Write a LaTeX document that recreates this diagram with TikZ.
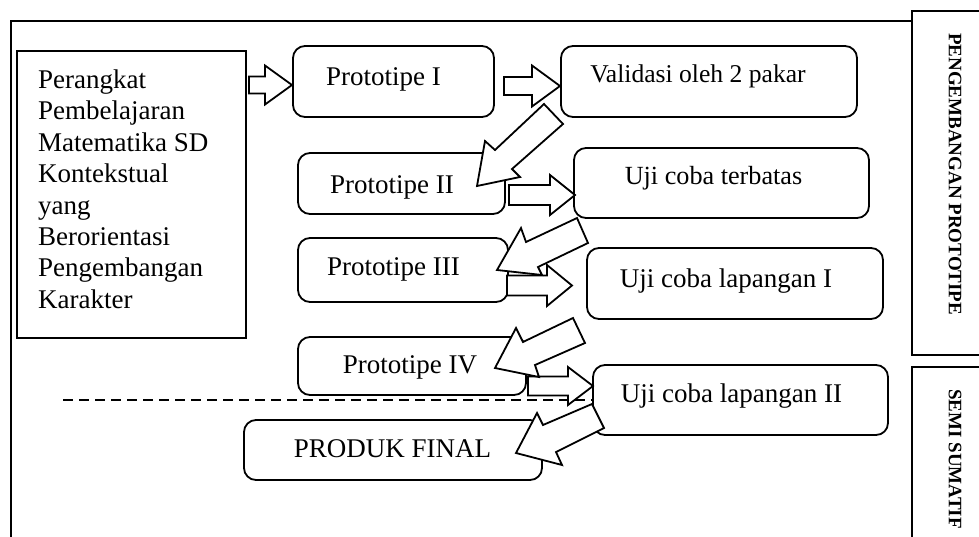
\documentclass[tikz,border=0pt]{standalone}
\usepackage{fontspec}
\setmainfont{Liberation Serif}
\tikzset{
  rbox/.style={draw, line width=1.8pt, rounded corners=12pt, inner sep=0pt},
  sbox/.style={draw, line width=1.8pt, inner sep=0pt},
  barr/.style={draw, fill=white, line width=1.8pt, line join=miter},
  lbl/.style={inner sep=0pt, font=\fontsize{27}{31.4}\selectfont},
  side/.style={inner sep=0pt, rotate=-90, anchor=west, font=\fontsize{19}{22}\selectfont\bfseries},
  frame/.style={line width=1.8pt},
}
\newcommand{\rarr}[6]{%
  \draw[barr] (#1,#4-#5) -- (#2,#4-#5) -- (#2,#4-#6) -- (#3,#4) -- (#2,#4+#6) -- (#2,#4+#5) -- (#1,#4+#5) -- cycle;}
\begin{document}
\begin{tikzpicture}[x=1pt,y=-1pt]
\useasboundingbox (0,0) rectangle (979,536);
\clip (0,0) rectangle (979,536);
% outer frame and side boxes
\draw[frame] (912,21) -- (11,21) -- (11,545);
\draw[frame] (912,11) rectangle (995,355);
\draw[frame] (912,367) rectangle (995,545);
\node[side] (s1) at (955,33) {PENGEMBANGAN PROTOTIPE};
\node[side] (s2) at (955,389) {SEMI SUMATIF};
% left box
\node[sbox, minimum width=229pt, minimum height=287pt] (src) at (131.5,194.5) {};
\node[lbl, anchor=north west, align=left] (srct) at (38,69.6) {Perangkat\\Pembelajaran\\Matematika SD\\Kontekstual\\yang\\Berorientasi\\Pengembangan\\Karakter};
% rounded boxes
\node[rbox, minimum width=201pt, minimum height=71pt] (p1) at (393.5,81.5) {};
\node[rbox, minimum width=296pt, minimum height=71pt] (val) at (709,81.5) {};
\node[rbox, minimum width=207pt, minimum height=61pt] (p2) at (401.5,183.5) {};
\node[rbox, minimum width=295pt, minimum height=70pt] (ut) at (721.5,183) {};
\node[rbox, minimum width=210pt, minimum height=64pt] (p3) at (403,270) {};
\node[rbox, minimum width=296pt, minimum height=71pt] (l1) at (735,283.5) {};
\node[rbox, minimum width=228pt, minimum height=58pt] (p4) at (412,366) {};
\node[rbox, minimum width=295pt, minimum height=70pt] (l2) at (740.5,400) {};
\node[rbox, minimum width=298pt, minimum height=60pt] (pf) at (393,450) {};
% texts
\node[lbl] (p1t) at (383.5,79) {Prototipe I};
\node[lbl, font=\fontsize{25.6}{30}\selectfont] (valt) at (698,76) {Validasi oleh 2 pakar};
\node[lbl] (p2t) at (392,187) {Prototipe II};
\node[lbl, font=\fontsize{26.2}{30}\selectfont] (utt) at (713.5,178) {Uji coba terbatas};
\node[lbl] (p3t) at (393.5,269) {Prototipe III};
\node[lbl] (l1t) at (726,281) {Uji coba lapangan I};
\node[lbl] (p4t) at (410,367.5) {Prototipe IV};
\node[lbl] (l2t) at (731.5,396) {Uji coba lapangan II};
\node[lbl] (pft) at (392.5,448.5) {PRODUK FINAL};
% horizontal block arrows
\rarr{249}{265}{292}{85}{8.5}{19.5}
\rarr{504}{532}{560}{86}{9}{20.5}
\rarr{509}{550}{575}{195}{10}{20}
\rarr{507}{547}{572}{285.5}{10}{20.5}
\rarr{528}{568}{593}{386}{9.5}{19}
% diagonal block arrows
\draw[barr] (544,104) -- (495,150) -- (485,141) -- (477,186) -- (520,177) -- (512,169) -- (563,124) -- cycle;
\draw[barr] (577,218) -- (526,242) -- (521,228) -- (497,270) -- (542,275) -- (538,267) -- (588,243) -- cycle;
\draw[barr] (573,318) -- (523,342) -- (516,328) -- (495,368) -- (539,377) -- (535,365) -- (585,343) -- cycle;
% dashed line
\coordinate (dstart) at (63,400);
\draw[line width=1.8pt, dash pattern=on 10pt off 6pt] (dstart) -- (l2.west);
\draw[barr] (592,404) -- (543,425) -- (537,413) -- (516,453) -- (562,465) -- (556,452) -- (604,428) -- cycle;
\end{tikzpicture}
\end{document}
